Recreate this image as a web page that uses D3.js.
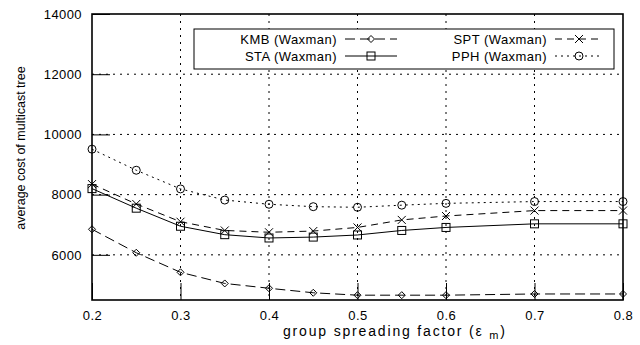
<!DOCTYPE html>
<meta charset="utf-8">
<style>
    body { margin: 0; background: #fff; }
    text { font-family: "Liberation Sans", Arial, sans-serif; fill: #000; }
    .grid line { stroke: #000; stroke-width: 1; stroke-dasharray: 2,5; }
</style>
<svg width="640" height="345"></svg>
<script src="https://cdn.jsdelivr.net/npm/d3@7"></script>
<script>

    var xs = [0.2, 0.25, 0.3, 0.35, 0.4, 0.45, 0.5, 0.55, 0.6, 0.7, 0.8];
    var kmb = [6850, 6070, 5420, 5050, 4890, 4740, 4660, 4660, 4660, 4700, 4700];
    var sta = [8200, 7550, 6950, 6670, 6560, 6590, 6660, 6810, 6910, 7030, 7030];
    var spt = [8350, 7690, 7100, 6810, 6750, 6790, 6910, 7160, 7290, 7470, 7470];
    var pph = [9510, 8810, 8190, 7820, 7680, 7600, 7580, 7650, 7710, 7770, 7770];
    var xTicks = [0.2, 0.3, 0.4, 0.5, 0.6, 0.7, 0.8];
    var yTicks = [6000, 8000, 10000, 12000, 14000];

    var series = [
        {name: "KMB (Waxman)", values: kmb, dash: "10,5", mark: "diamond"},
        {name: "SPT (Waxman)", values: spt, dash: "7,5", mark: "cross"},
        {name: "STA (Waxman)", values: sta, dash: null, mark: "square"},
        {name: "PPH (Waxman)", values: pph, dash: "2,4", mark: "circle"}
    ];

    var svg = d3.select("svg"),
        plotL = 92, plotR = 623, plotT = 14, plotB = 300;

    var x = d3.scaleLinear().domain([0.2, 0.8]).range([plotL, plotR]);
    var y = d3.scaleLinear().domain([4500, 14000]).range([plotB, plotT]);

    // grid
    var grid = svg.append("g").attr("class", "grid");
    grid.selectAll(".gx")
        .data(xTicks.slice(1, -1))
        .enter().append("line")
        .attr("x1", function (d) { return x(d); })
        .attr("x2", function (d) { return x(d); })
        .attr("y1", plotT).attr("y2", plotB);
    grid.selectAll(".gy")
        .data(yTicks.slice(0, -1))
        .enter().append("line")
        .attr("x1", plotL).attr("x2", plotR)
        .attr("y1", function (d) { return y(d); })
        .attr("y2", function (d) { return y(d); });

    // axes: inward ticks
    var xAxis = svg.append("g")
        .attr("transform", "translate(0," + plotB + ")")
        .call(d3.axisBottom(x).tickValues(xTicks).tickSize(-17).tickPadding(11).tickFormat(d3.format(".1f")));
    var yAxis = svg.append("g")
        .attr("transform", "translate(" + plotL + ",0)")
        .call(d3.axisLeft(y).tickValues(yTicks).tickSize(-18).tickPadding(10).tickFormat(d3.format("d")));
    [xAxis, yAxis].forEach(function (a) {
        a.select(".domain").remove();
        a.selectAll(".tick line").attr("stroke", "#000");
        a.selectAll(".tick text").attr("font-size", "13px")
            .attr("letter-spacing", "0.4px")
            .attr("font-family", "'Liberation Sans', Arial, sans-serif");
    });

    svg.append("rect")
        .attr("x", plotL).attr("y", plotT)
        .attr("width", plotR - plotL).attr("height", plotB - plotT)
        .attr("fill", "none").attr("stroke", "#000").attr("stroke-width", 1.6);

    function drawMark(g, kind, cx, cy) {
        if (kind === "diamond") {
            g.append("path").attr("d", "M" + cx + "," + (cy - 3.5) + "L" + (cx + 3.5) + "," + cy +
                "L" + cx + "," + (cy + 3.5) + "L" + (cx - 3.5) + "," + cy + "Z")
                .attr("fill", "none").attr("stroke", "#000");
        } else if (kind === "square") {
            g.append("rect").attr("x", cx - 4).attr("y", cy - 4)
                .attr("width", 8).attr("height", 8)
                .attr("fill", "none").attr("stroke", "#000");
        } else if (kind === "cross") {
            g.append("path").attr("d", "M" + (cx - 4) + "," + (cy - 4) + "L" + (cx + 4) + "," + (cy + 4) +
                "M" + (cx - 4) + "," + (cy + 4) + "L" + (cx + 4) + "," + (cy - 4))
                .attr("fill", "none").attr("stroke", "#000");
        } else {
            g.append("circle").attr("cx", cx).attr("cy", cy).attr("r", 4)
                .attr("fill", "none").attr("stroke", "#000");
        }
    }

    var line = d3.line()
        .x(function (d, i) { return x(xs[i]); })
        .y(function (d) { return y(d); });

    series.forEach(function (s) {
        var g = svg.append("g");
        g.append("path")
            .attr("d", line(s.values))
            .attr("fill", "none")
            .attr("stroke", "#000")
            .attr("stroke-width", 1)
            .attr("stroke-dasharray", s.dash);
        s.values.forEach(function (v, i) {
            drawMark(g, s.mark, x(xs[i]), y(v));
        });
    });

    // legend
    var lg = svg.append("g");
    lg.append("rect")
        .attr("x", 194).attr("y", 29).attr("width", 420).attr("height", 40)
        .attr("fill", "#fff").attr("stroke", "#000").attr("stroke-width", 1);
    var slots = [
        {tx: 337, x1: 345, x2: 397, cy: 39},
        {tx: 547, x1: 555, x2: 603, cy: 39},
        {tx: 337, x1: 345, x2: 397, cy: 56},
        {tx: 547, x1: 555, x2: 603, cy: 56}
    ];
    series.forEach(function (s, i) {
        var p = slots[i];
        lg.append("text")
            .attr("x", p.tx).attr("y", p.cy).attr("dy", "0.35em")
            .attr("text-anchor", "end").attr("font-size", "13px")
            .attr("letter-spacing", "0.45px")
            .text(s.name);
        lg.append("line")
            .attr("x1", p.x1).attr("x2", p.x2).attr("y1", p.cy).attr("y2", p.cy)
            .attr("stroke", "#000").attr("stroke-dasharray", s.dash);
        drawMark(lg, s.mark, (p.x1 + p.x2) / 2, p.cy);
    });

    // axis labels
    var xl = svg.append("text")
        .attr("x", 394).attr("y", 336)
        .attr("text-anchor", "middle").attr("font-size", "14px")
        .attr("textLength", 222).attr("lengthAdjust", "spacing");
    xl.append("tspan").text("group spreading factor (ε ");
    xl.append("tspan").attr("font-size", "11px").attr("dy", 3).text("m");
    xl.append("tspan").attr("dy", -3).text(")");

    svg.append("text")
        .attr("transform", "translate(25,148) rotate(-90)")
        .attr("text-anchor", "middle").attr("font-size", "12.5px")
        .text("average cost of multicast tree");

</script>
